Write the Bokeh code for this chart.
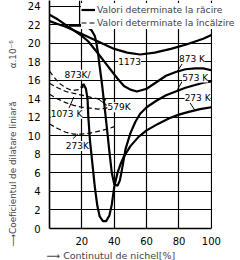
from bokeh.plotting import figure
from bokeh.models import Range1d, Legend, LegendItem, Title, FixedTicker, ColumnDataSource, BoxAnnotation
from bokeh.core.properties import value
from bokeh.embed import file_html
from bokeh.resources import INLINE

FONT = "DejaVu Sans"

# ---------------- data ----------------
x_ticks = [20, 40, 60, 80, 100]
y_ticks = [0, 2, 4, 6, 8, 10, 12, 14, 16, 18, 20, 22, 24]

# cooling values (solid)
cool_1173_x = [0, 5, 10, 20, 30, 40, 48, 56, 65, 75, 85, 95, 100]
cool_1173_y = [22.4, 22.1, 21.8, 21.0, 20.2, 19.4, 19.0, 18.8, 19.0, 19.4, 19.9, 20.5, 20.9]

cool_873_x = [0, 5, 10, 15, 20, 24, 30, 34, 38, 42, 46, 50, 54, 60, 66, 72, 78, 84, 90, 95, 100]
cool_873_y = [23.1, 22.6, 22.0, 21.4, 20.8, 20.2, 18.9, 18.0, 17.1, 16.2, 15.4, 15.0, 14.8, 15.1, 15.8, 16.5, 16.9, 17.2, 17.3, 17.3, 17.1]

cool_573_x = [12, 16, 20, 24, 26, 28, 29, 30, 31, 32.5, 34, 35.5, 37, 38.5, 40, 42, 43.5, 45, 47, 50, 53, 56, 60, 66, 72, 78, 84, 90, 95, 100]
cool_573_y = [21.9, 21.9, 21.9, 21.7, 21.4, 20.8, 20.0, 18.9, 17.5, 15.5, 13.2, 10.8, 8.3, 6.0, 4.8, 4.6, 5.2, 6.6, 8.6, 10.3, 11.5, 12.4, 13.1, 13.8, 14.4, 14.8, 15.2, 15.5, 15.75, 15.9]

cool_273_x = [19.5, 21, 22.5, 23.5, 24, 25, 26.5, 28, 29.5, 31, 33, 35, 37, 38.5, 40, 42, 44, 46, 50, 55, 60, 67, 74, 80, 86, 93, 100]
cool_273_y = [15.2, 15.6, 15.1, 14.0, 12.0, 9.5, 7.0, 4.5, 2.5, 1.3, 0.8, 0.8, 1.4, 2.6, 4.5, 6.0, 7.0, 7.8, 8.9, 9.9, 10.6, 11.3, 11.9, 12.3, 12.6, 12.9, 13.1]

# heating values (dashed)
heat_873_x = [0, 3, 6, 10, 14, 18, 21]
heat_873_y = [17.0, 16.3, 15.7, 15.2, 14.9, 15.0, 15.3]

heat_579_x = [0, 5, 10, 15, 20, 25, 30, 35]
heat_579_y = [15.7, 15.2, 14.8, 14.6, 14.4, 14.2, 14.0, 13.9]

heat_1073_x = [0, 5, 10, 15, 20, 25, 30, 35, 40]
heat_1073_y = [14.5, 14.0, 13.6, 13.3, 13.1, 13.0, 12.9, 13.0, 13.3]

heat_273_x = [0, 5, 10, 15, 20, 25, 30, 35, 40]
heat_273_y = [11.3, 10.8, 10.4, 10.2, 10.2, 10.3, 10.5, 10.7, 11.0]

curve_labels = ["1173", "873 K", "573 K", "273 K", "579K", "873K/", "1073 K", "273K"]
curve_label_x = [49.5, 88, 90, 91.5, 43, 17.3, 10.5, 17.2]
curve_label_y = [18.0, 18.3, 16.3, 14.1, 13.1, 16.6, 12.4, 8.9]

# short pointer strokes from labels to their curves
leader_x0 = [82.0, 82.0, 86.7, 35.5, 12.0, 14.5]
leader_y0 = [17.8, 15.9, 13.6, 13.3, 13.0, 9.7]
leader_x1 = [79.0, 79.0, 89.7, 30.0, 15.0, 17.5]
leader_y1 = [17.0, 15.0, 12.8, 14.0, 14.2, 10.2]

legend_labels = ["Valori determinate la răcire", "Valori determinate la încălzire"]

y_title = "⟶Coeficientul de dilatare liniară\u2003\u2003\u2002\u00a0\u00a0\u00a0\u00a0α.10⁻⁶"
x_title = "⟶ Continutul de nichel[%]"

# ---------------- figure ----------------
X_MAX = 100
p = figure(width=240, height=260, output_backend="svg", toolbar_location=None,
           x_range=Range1d(0, 118), y_range=Range1d(0, 24.63),
           min_border_left=43, min_border_right=0, min_border_top=0, min_border_bottom=25)
p.outline_line_color = None
p.background_fill_color = "white"
p.border_fill_color = "white"

for ax in (p.xaxis[0], p.yaxis[0]):
    ax.major_tick_line_color = None
    ax.minor_tick_line_color = None
    ax.axis_line_color = "black"
    ax.axis_line_width = 1.6
    ax.major_label_text_font = FONT
    ax.major_label_text_font_size = "10px"
    ax.major_label_text_color = "black"
    ax.major_label_standoff = 3
p.xaxis.major_label_standoff = 2
p.xaxis.bounds = (0, X_MAX)
p.xaxis.ticker = FixedTicker(ticks=x_ticks)
p.yaxis.ticker = FixedTicker(ticks=y_ticks)
p.xgrid.ticker = FixedTicker(ticks=x_ticks)
p.ygrid.ticker = FixedTicker(ticks=y_ticks)
p.xgrid.grid_line_color = "black"
p.ygrid.grid_line_color = "black"
p.xgrid.grid_line_width = 1.2
p.ygrid.grid_line_width = 1.2

solid = dict(line_color="black", line_width=2.2)
dashed = dict(line_color="black", line_width=1.2, line_dash="5 3")

r_c1173 = p.line(cool_1173_x, cool_1173_y, **solid)
p.line(cool_873_x, cool_873_y, **solid)
p.line(cool_573_x, cool_573_y, **solid)
p.line(cool_273_x, cool_273_y, **solid)

r_h873 = p.line(heat_873_x, heat_873_y, **dashed)
p.line(heat_579_x, heat_579_y, **dashed)
p.line(heat_1073_x, heat_1073_y, **dashed)
p.line(heat_273_x, heat_273_y, **dashed)

p.segment(x0=leader_x0, y0=leader_y0, x1=leader_x1, y1=leader_y1, line_color="black", line_width=1.0)

src = ColumnDataSource(dict(x=curve_label_x, y=curve_label_y, t=curve_labels))
p.text(x="x", y="y", text="t", source=src, text_font=value(FONT), text_font_size="9px",
       text_align="center", text_baseline="middle", text_color="black",
       background_fill_color="white")

# blank out the grid to the right of the 100 % line (room for the legend text)
p.add_layout(BoxAnnotation(left=X_MAX + 0.45, fill_color="white", fill_alpha=1.0, line_color=None))

# legend box: white, its left edge drawn as a thin line
legend_edge_x = 18.57
p.segment(x0=legend_edge_x, y0=22.0, x1=legend_edge_x, y1=24.63, line_color="black", line_width=1.2)
legend = Legend(items=[LegendItem(label=legend_labels[0], renderers=[r_c1173]),
                       LegendItem(label=legend_labels[1], renderers=[r_h873])],
                location=(32, 199), padding=5, spacing=0, margin=0,
                glyph_width=14, glyph_height=13, label_height=13, label_standoff=2,
                label_text_font=FONT, label_text_font_size="9.2px",
                background_fill_color="white", background_fill_alpha=1.0,
                border_line_color=None)
p.add_layout(legend, "center")

p.add_layout(Title(text=y_title, align="left", offset=-18, standoff=12, vertical_align="middle",
                   text_font=FONT, text_font_size="8.8px", text_font_style="normal"), "left")
p.add_layout(Title(text=x_title, align="left", offset=-3, standoff=0,
                   text_font=FONT, text_font_size="9.5px", text_font_style="normal"), "below")

open("out.html", "w").write(file_html(p, INLINE))
